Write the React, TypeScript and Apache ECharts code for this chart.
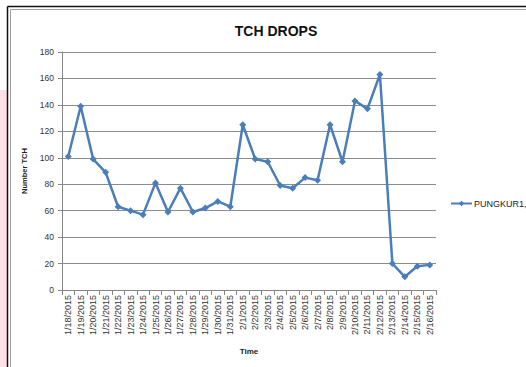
import React, { useEffect, useRef } from "react";
import * as echarts from "echarts";

// Daily TCH drop counts, one per day
const days: string[] = [
  "1/18/2015", "1/19/2015", "1/20/2015", "1/21/2015", "1/22/2015", "1/23/2015",
  "1/24/2015", "1/25/2015", "1/26/2015", "1/27/2015", "1/28/2015", "1/29/2015",
  "1/30/2015", "1/31/2015", "2/1/2015", "2/2/2015", "2/3/2015", "2/4/2015",
  "2/5/2015", "2/6/2015", "2/7/2015", "2/8/2015", "2/9/2015", "2/10/2015",
  "2/11/2015", "2/12/2015", "2/13/2015", "2/14/2015", "2/15/2015", "2/16/2015",
];

const pungkurDrops: number[] = [
  101, 139, 99, 89, 63, 60, 57, 81, 59, 77, 59, 62, 67, 63, 125, 99, 97, 79,
  77, 85, 83, 125, 97, 143, 137, 163, 20, 10, 18, 19,
];

const seriesName = "PUNGKUR1,";
const yTicks = { min: 0, max: 180, interval: 20 };

const FONT = "'Liberation Sans', 'DejaVu Sans', sans-serif";
const LINE_BLUE = "#4a7ebb";

export default function App() {
  const ref = useRef<HTMLDivElement>(null);

  useEffect(() => {
    if (!ref.current) return;
    const chart = echarts.init(ref.current, null, { renderer: "svg" });
    chart.setOption({
      animation: false,
      backgroundColor: "#ffffff",
      graphic: [
        // pink strip at the far left
        { type: "rect", shape: { x: 0, y: 90, width: 7, height: 277 }, style: { fill: "#fde1e5" }, z: -10 },
        // double frame around the chart
        { type: "line", shape: { x1: 7.5, y1: 6.5, x2: 526, y2: 6.5 }, style: { stroke: "#111", lineWidth: 1.5 }, z: -5 },
        { type: "line", shape: { x1: 7.5, y1: 6.5, x2: 7.5, y2: 367 }, style: { stroke: "#111", lineWidth: 1.5 }, z: -5 },
        { type: "line", shape: { x1: 10.5, y1: 9.5, x2: 526, y2: 9.5 }, style: { stroke: "#a0a0a0", lineWidth: 1 }, z: -5 },
        { type: "line", shape: { x1: 10.5, y1: 9.5, x2: 10.5, y2: 367 }, style: { stroke: "#a0a0a0", lineWidth: 1 }, z: -5 },
      ],
      title: {
        text: "TCH DROPS",
        left: 271,
        top: 19,
        textAlign: "center",
        textStyle: { fontFamily: FONT, fontSize: 14, fontWeight: "bold", color: "#111" },
      },
      legend: {
        orient: "vertical",
        left: 450,
        top: 199,
        padding: 0,
        itemWidth: 21,
        itemHeight: 7,
        itemGap: 4,
        data: [seriesName],
        textStyle: { fontFamily: FONT, fontSize: 9, color: "#222", padding: [0, 0, 0, -3] },
      },
      grid: { left: 62, right: 90, top: 52, bottom: 77, containLabel: false },
      xAxis: {
        type: "category",
        data: days,
        boundaryGap: true,
        name: "Time",
        nameLocation: "middle",
        nameGap: 57,
        nameTextStyle: { fontFamily: FONT, fontSize: 8, fontWeight: "bold", color: "#222" },
        axisLine: { lineStyle: { color: "#868686", width: 1 } },
        axisTick: { show: true, length: 5, interval: 0, lineStyle: { color: "#868686" } },
        axisLabel: {
          rotate: 90,
          interval: 0,
          fontFamily: FONT,
          fontSize: 9,
          color: "#333",
          margin: 5,
        },
        splitLine: { show: false },
      },
      yAxis: {
        type: "value",
        min: yTicks.min,
        max: yTicks.max,
        interval: yTicks.interval,
        name: "Number TCH",
        nameLocation: "middle",
        nameGap: 29,
        nameRotate: 90,
        nameTextStyle: { fontFamily: FONT, fontSize: 7.5, fontWeight: "bold", color: "#222" },
        axisLine: { show: true, lineStyle: { color: "#868686", width: 1 } },
        axisTick: { show: true, length: 4, lineStyle: { color: "#868686" } },
        axisLabel: { fontFamily: FONT, fontSize: 8.5, color: "#333", margin: 8 },
        splitLine: { show: true, lineStyle: { color: "#8c8c8c", width: 1 } },
      },
      series: [
        {
          name: seriesName,
          type: "line",
          data: pungkurDrops,
          symbol: "diamond",
          symbolSize: 7,
          showAllSymbol: true,
          lineStyle: { color: LINE_BLUE, width: 2.5 },
          itemStyle: { color: LINE_BLUE },
        },
      ],
    });
    return () => chart.dispose();
  }, []);

  return (
    <div
      ref={ref}
      style={{ position: "fixed", left: 0, top: 0, width: 526, height: 367 }}
    />
  );
}
